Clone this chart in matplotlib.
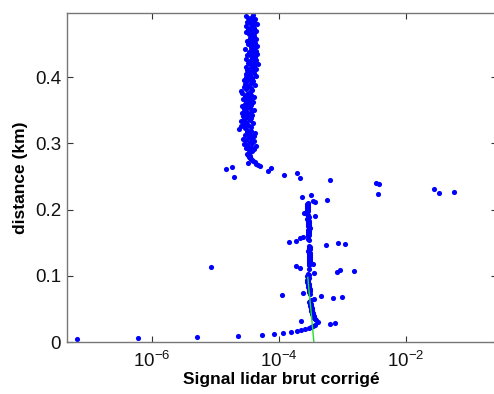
import numpy as np
import matplotlib
matplotlib.use("Agg")
import matplotlib.pyplot as plt
from matplotlib.ticker import FixedLocator, NullLocator

plt.rcParams['font.family'] = ['Liberation Sans', 'DejaVu Sans']

# range-bin spacing (km) and first bin index
bin_km = 0.0015
first_bin = 3

# lidar signal, one value per range bin, from the ground upward (nan = no point shown)
nan = np.nan
signal_low = [
    6.6e-8, 6.0e-7, 5.1e-6, 2.26e-5, 5.4e-5, 8.3e-5, 1.16e-4, 1.55e-4, 1.92e-4, 2.22e-4,
    2.57e-4, 2.96e-4, 3.19e-4, 3.43e-4, 3.69e-4, 6.36e-4, 7.62e-4, 4.11e-4, 2.22e-4,
    3.83e-4, 3.69e-4, 3.56e-4, 3.43e-4, 3.56e-4, 3.43e-4, 3.31e-4, 3.43e-4, 3.31e-4, 3.19e-4,
    3.31e-4, 3.19e-4, 3.31e-4, 3.19e-4, 3.08e-4, 3.19e-4, 3.08e-4, 3.19e-4, 3.08e-4, 2.96e-4,
    3.08e-4, 3.19e-4,
    3.56e-4, 7.08e-4, 9.8e-4, 4.58e-4, 1.11e-4, 3.08e-4, 2.40e-4,
    2.96e-4, 3.08e-4, 2.96e-4, 3.08e-4, 2.96e-4, 2.86e-4, 2.96e-4, 2.86e-4, 2.96e-4, 2.86e-4,
    2.76e-4, 2.86e-4, 2.76e-4, 2.86e-4, 2.96e-4, 2.86e-4, 2.76e-4, 2.96e-4, 2.86e-4,
    3.56e-4, 8.2e-4, 1.52e-3, 9.1e-4, 2.96e-4, 2.14e-4, 8.5e-6, 1.85e-4, 2.96e-4, 3.43e-4, 2.96e-4,
    2.96e-4, 3.08e-4, 2.96e-4, 3.08e-4, 2.96e-4, 3.08e-4, 2.96e-4, 3.08e-4, 2.96e-4, 3.08e-4,
    2.96e-4, 2.86e-4, 2.96e-4, 3.08e-4, 2.96e-4, 3.08e-4, 2.96e-4,
    5.5e-4, 1.09e-3, 8.5e-4, 1.44e-4, 1.85e-4, 2.96e-4, 2.86e-4, 2.14e-4, 2.40e-4,
    2.86e-4, 2.96e-4, 2.86e-4, 2.96e-4, 2.86e-4, 2.96e-4, 2.86e-4, 2.96e-4, 3.08e-4, 2.96e-4,
    2.86e-4, 2.96e-4, 2.86e-4, 2.96e-4, 2.86e-4, 2.96e-4, 2.86e-4, 2.76e-4, 2.86e-4, 2.96e-4,
    3.69e-4, 2.86e-4, 2.76e-4, 2.49e-4, 2.76e-4, 2.86e-4, 2.76e-4, 2.86e-4, 2.76e-4, 2.86e-4,
    2.76e-4, 2.86e-4, 2.76e-4, 2.86e-4, 3.69e-4,
    3.43e-4, 5.7e-4, nan, nan, 2.30e-4, nan, 3.19e-4, 3.62e-3, 3.31e-2, 5.7e-2,
    nan, nan, 2.76e-2, nan, nan, nan, nan, 3.76e-3, 3.37e-3, nan,
    nan, 6.36e-4, nan, 2.14e-4, 1.96e-5, nan, 1.20e-4, nan, 1.92e-4, nan,
    6.7e-5, nan, 1.46e-5, 7.5e-5, 1.82e-5, 5.02e-5, 4.67e-5, 4.35e-5, 3.26e-5, 4.2e-5,
    3.9e-5, 3.76e-5, 3.62e-5, 3.49e-5, 3.36e-5, 3.49e-5, 3.26e-5, 3.13e-5, 3.36e-5, 3.49e-5,
    3.76e-5,
]

# upper cluster (above ~0.29 km), in units of 1e-5
signal_high_e5 = [
    3.4, 4.0, 3.0, 3.6, 4.3, 3.2, 2.8, 3.8, 3.5, 4.1, 3.1, 2.7, 3.6, 3.4, 4.0, 2.9, 3.5, 4.2, 3.2, 3.7,
    3.2, 2.4, 2.9, 3.6, 2.5, 3.3, 2.8, 3.9, 3.1, 2.5, 3.5, 2.8, 3.7, 3.2, 2.7, 3.8, 2.9, 3.4, 2.6, 3.6,
    3.0, 4.1, 2.8, 3.5, 3.2, 2.6, 3.7, 2.9, 3.4, 3.9,
    3.0, 3.6, 2.7, 3.3, 4.0, 2.9, 3.7, 3.2, 2.6, 3.5, 2.5, 3.8, 3.0, 3.6, 2.8, 3.3, 4.2, 2.9, 3.7, 3.1,
    3.9, 2.8, 3.4, 3.8, 3.0, 4.4, 3.5, 3.1, 4.0, 3.4,
    3.9, 3.2, 4.3, 3.6, 3.0, 4.1, 3.7, 4.7, 3.3, 4.0, 3.5, 4.4, 3.1, 3.8, 4.2, 3.6, 3.2, 4.5, 3.9, 3.4,
    4.3, 3.7, 2.9, 4.1, 3.6, 4.6, 3.8, 3.3, 4.2, 3.7, 3.2, 4.0, 4.4, 3.5, 3.8, 4.1, 3.6,
    3.4, 4.0, 3.1, 4.3, 3.6, 3.3, 4.1, 3.7, 3.0, 3.9, 4.5, 3.5, 3.2, 4.0, 3.6, 4.2, 3.3, 3.8, 3.1, 3.9,
]

# green fitted line
fit_distance = [0.0, 0.025, 0.05, 0.075, 0.098]
fit_signal = [3.56e-4, 3.37e-4, 3.19e-4, 3.0e-4, 2.86e-4]

signal = np.array(signal_low + [v * 1e-5 for v in signal_high_e5])
distance = bin_km * (first_bin + np.arange(len(signal)))

xtick_vals = [1e-6, 1e-4, 1e-2]
xtick_labels = [r'$\mathregular{10^{-6}}$', r'$\mathregular{10^{-4}}$', r'$\mathregular{10^{-2}}$']
ytick_vals = [0, 0.1, 0.2, 0.3, 0.4]
ytick_labels = ['0', '0.1', '0.2', '0.3', '0.4']

fig = plt.figure(figsize=(4.94, 3.94), dpi=100)
W, H = 494, 394
x0, x1, ytop, ybot = 66.7, 496.5, 12.7, 342.3
ax = fig.add_axes([x0 / W, (H - ybot) / H, (x1 - x0) / W, (ybot - ytop) / H])

ax.plot(signal, distance, linestyle='none', marker='o', ms=3.7, mew=0,
        color='#0000ff')
ax.plot(fit_signal, fit_distance, color='#22e022', lw=1.0)

ax.set_xscale('log')
ax.set_xlim(10 ** -7.336, 10 ** -0.577)
ax.set_ylim(0, 0.497)

ax.xaxis.set_major_locator(FixedLocator(xtick_vals))
ax.xaxis.set_minor_locator(NullLocator())
ax.set_xticks(xtick_vals)
ax.set_xticklabels(xtick_labels)
ax.set_yticks(ytick_vals)
ax.set_yticklabels(ytick_labels)

ax.tick_params(direction='in', length=4, width=0.8, color='#333333',
               top=True, right=True, labelsize=13.5, labelcolor='#111111')
ax.tick_params(axis='x', pad=6)
ax.tick_params(axis='y', pad=4)
for s in ax.spines.values():
    s.set_color('#777777')
    s.set_linewidth(1.0)

ax.set_xlabel('Signal lidar brut corrigé', fontsize=12.5, fontweight='bold', labelpad=1)
ax.set_ylabel('distance (km)', fontsize=12.5, fontweight='bold', labelpad=5)

fig.savefig('out.png', dpi=100)
